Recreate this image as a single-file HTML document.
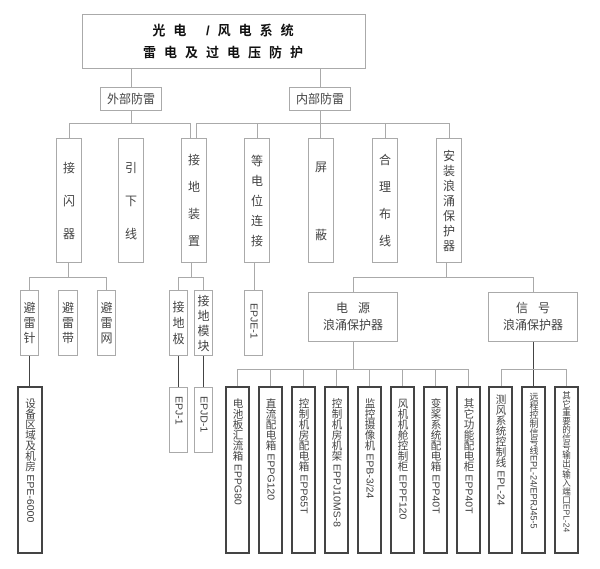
<!DOCTYPE html>
<html><head><meta charset="utf-8"><style>
body{margin:0;background:#fff;}
#c{position:relative;width:600px;height:569px;overflow:hidden;font-family:"Liberation Sans","Noto Sans CJK SC",sans-serif;color:#444;}
.b{position:absolute;box-sizing:border-box;border:1px solid #aaa;background:#fff;}
.k{border:2px solid #444;}
.l{position:absolute;background:#aaa;}
.d{position:absolute;background:#444;}
.col{display:flex;flex-direction:column;align-items:center;justify-content:center;font-size:12px;line-height:12px;}
.v{writing-mode:vertical-rl;text-orientation:mixed;font-size:10.5px;line-height:12px;display:flex;align-items:center;}
.vt{padding-top:10px;}
</style></head><body><div id="c">
<!-- title -->
<div class="b" style="left:82px;top:14px;width:284px;height:55px;"></div>
<div style="position:absolute;left:82px;top:23px;width:290px;text-align:center;font-weight:bold;font-size:13px;letter-spacing:8px;color:#111;line-height:16px;">光电&nbsp;/风电系统</div>
<div style="position:absolute;left:82px;top:45px;width:290px;text-align:center;font-weight:bold;font-size:13px;letter-spacing:8px;color:#111;line-height:16px;">雷电及过电压防护</div>
<div class="l" style="left:131px;top:69px;width:1px;height:18px;"></div>
<div class="l" style="left:320px;top:69px;width:1px;height:18px;"></div>
<div class="b" style="left:100px;top:87px;width:62px;height:24px;font-size:12px;text-align:center;line-height:22px;">外部防雷</div>
<div class="b" style="left:289px;top:87px;width:62px;height:24px;font-size:12px;text-align:center;line-height:22px;">内部防雷</div>
<div class="l" style="left:131px;top:111px;width:1px;height:12px;"></div>
<div class="l" style="left:320px;top:111px;width:1px;height:27px;"></div>
<div class="l" style="left:69px;top:123px;width:121px;height:1px;"></div>
<div class="l" style="left:196px;top:123px;width:253px;height:1px;"></div>
<div class="l" style="left:69px;top:123px;width:1px;height:15px;"></div>
<div class="l" style="left:190px;top:123px;width:1px;height:15px;"></div>
<div class="l" style="left:196px;top:123px;width:1px;height:15px;"></div>
<div class="l" style="left:257px;top:123px;width:1px;height:15px;"></div>
<div class="l" style="left:385px;top:123px;width:1px;height:15px;"></div>
<div class="l" style="left:449px;top:123px;width:1px;height:15px;"></div>
<!-- row 1 -->
<div class="b col" style="left:56px;top:138px;width:26px;height:125px;gap:21px;"><span>接</span><span>闪</span><span>器</span></div>
<div class="b col" style="left:118px;top:138px;width:26px;height:125px;gap:21px;"><span>引</span><span>下</span><span>线</span></div>
<div class="b col" style="left:181px;top:138px;width:26px;height:125px;gap:15px;"><span>接</span><span>地</span><span>装</span><span>置</span></div>
<div class="b col" style="left:244px;top:138px;width:26px;height:125px;gap:8px;"><span>等</span><span>电</span><span>位</span><span>连</span><span>接</span></div>
<div class="b col" style="left:308px;top:138px;width:26px;height:125px;gap:56px;"><span>屏</span><span>蔽</span></div>
<div class="b col" style="left:372px;top:138px;width:26px;height:125px;gap:15px;"><span>合</span><span>理</span><span>布</span><span>线</span></div>
<div class="b col" style="left:436px;top:138px;width:26px;height:125px;gap:3px;"><span>安</span><span>装</span><span>浪</span><span>涌</span><span>保</span><span>护</span><span>器</span></div>
<!-- left lower -->
<div class="l" style="left:68px;top:263px;width:1px;height:14px;"></div>
<div class="l" style="left:29px;top:277px;width:78px;height:1px;"></div>
<div class="l" style="left:29px;top:277px;width:1px;height:13px;"></div>
<div class="l" style="left:106px;top:277px;width:1px;height:13px;"></div>
<div class="b col" style="left:20px;top:290px;width:19px;height:66px;gap:3px;"><span>避</span><span>雷</span><span>针</span></div>
<div class="b col" style="left:58px;top:290px;width:20px;height:66px;gap:3px;"><span>避</span><span>雷</span><span>带</span></div>
<div class="b col" style="left:97px;top:290px;width:19px;height:66px;gap:3px;"><span>避</span><span>雷</span><span>网</span></div>
<div class="d" style="left:29px;top:356px;width:1px;height:31px;"></div>
<div class="b k v vt" style="left:17px;top:386px;width:26px;height:168px;">设备区域及机房&nbsp;EPE-6000</div>
<!-- grounding -->
<div class="l" style="left:191px;top:263px;width:1px;height:14px;"></div>
<div class="l" style="left:178px;top:277px;width:26px;height:1px;"></div>
<div class="l" style="left:178px;top:277px;width:1px;height:13px;"></div>
<div class="l" style="left:203px;top:277px;width:1px;height:13px;"></div>
<div class="b col" style="left:169px;top:290px;width:19px;height:66px;gap:4px;"><span>接</span><span>地</span><span>极</span></div>
<div class="b col" style="left:194px;top:290px;width:19px;height:66px;gap:3px;"><span>接</span><span>地</span><span>模</span><span>块</span></div>
<div class="d" style="left:178px;top:356px;width:1px;height:31px;"></div>
<div class="d" style="left:203px;top:356px;width:1px;height:31px;"></div>
<div class="b v" style="left:169px;top:387px;width:19px;height:66px;padding-top:8px;">EPJ-1</div>
<div class="b v" style="left:194px;top:387px;width:19px;height:66px;padding-top:8px;">EPJD-1</div>
<!-- EPJE -->
<div class="l" style="left:254px;top:263px;width:1px;height:27px;"></div>
<div class="b v" style="left:244px;top:290px;width:19px;height:66px;padding-top:12px;">EPJE-1</div>
<!-- SPD -->
<div class="l" style="left:446px;top:263px;width:1px;height:14px;"></div>
<div class="l" style="left:353px;top:277px;width:181px;height:1px;"></div>
<div class="l" style="left:353px;top:277px;width:1px;height:15px;"></div>
<div class="l" style="left:533px;top:277px;width:1px;height:15px;"></div>
<div class="b" style="left:308px;top:292px;width:90px;height:50px;font-size:12px;text-align:center;line-height:17px;padding-top:7px;">电&nbsp;&nbsp;&nbsp;源<br>浪涌保护器</div>
<div class="b" style="left:488px;top:292px;width:90px;height:50px;font-size:12px;text-align:center;line-height:17px;padding-top:7px;">信&nbsp;&nbsp;&nbsp;号<br>浪涌保护器</div>
<div class="l" style="left:353px;top:342px;width:1px;height:27px;"></div>
<div class="l" style="left:237px;top:369px;width:232px;height:1px;"></div>
<div class="d" style="left:533px;top:342px;width:1px;height:45px;"></div>
<div class="l" style="left:501px;top:369px;width:66px;height:1px;"></div>
<div class="l" style="left:237px;top:369px;width:1px;height:18px;"></div>
<div class="l" style="left:270px;top:369px;width:1px;height:18px;"></div>
<div class="l" style="left:303px;top:369px;width:1px;height:18px;"></div>
<div class="l" style="left:336px;top:369px;width:1px;height:18px;"></div>
<div class="l" style="left:369px;top:369px;width:1px;height:18px;"></div>
<div class="l" style="left:402px;top:369px;width:1px;height:18px;"></div>
<div class="l" style="left:435px;top:369px;width:1px;height:18px;"></div>
<div class="l" style="left:468px;top:369px;width:1px;height:18px;"></div>
<div class="l" style="left:501px;top:369px;width:1px;height:18px;"></div>
<div class="l" style="left:566px;top:369px;width:1px;height:18px;"></div>
<div class="b k v vt" style="left:225px;top:386px;width:25px;height:168px;">电池板汇流箱&nbsp;EPPG80</div>
<div class="b k v vt" style="left:258px;top:386px;width:25px;height:168px;">直流配电箱&nbsp;EPPG120</div>
<div class="b k v vt" style="left:291px;top:386px;width:25px;height:168px;">控制机房配电箱&nbsp;EPP65T</div>
<div class="b k v vt" style="left:324px;top:386px;width:25px;height:168px;">控制机房机架&nbsp;EPPJ10MS-8</div>
<div class="b k v vt" style="left:357px;top:386px;width:25px;height:168px;">监控摄像机&nbsp;EPB-3/24</div>
<div class="b k v vt" style="left:390px;top:386px;width:25px;height:168px;">风机机舱控制柜&nbsp;EPPF120</div>
<div class="b k v vt" style="left:423px;top:386px;width:25px;height:168px;">变桨系统配电箱&nbsp;EPP40T</div>
<div class="b k v vt" style="left:456px;top:386px;width:25px;height:168px;">其它功能配电柜&nbsp;EPP40T</div>
<div class="b k v" style="left:488px;top:386px;width:25px;height:168px;padding-top:6px;">测风系统控制线&nbsp;EPL-24</div>
<div class="b k v" style="left:521px;top:386px;width:25px;height:168px;padding-top:4px;font-size:9px;">远程控制信号线EPL-24/EPRJ45-5</div>
<div class="b k v" style="left:554px;top:386px;width:25px;height:168px;padding-top:3px;font-size:8.5px;">其它重要的信号输出/输入端口EPL-24</div>
</div></body></html>
